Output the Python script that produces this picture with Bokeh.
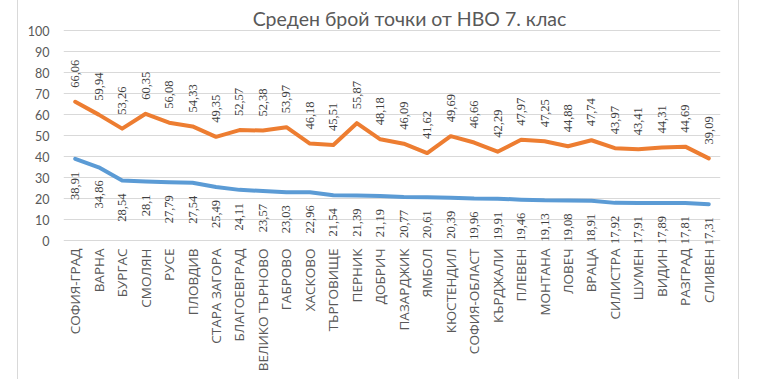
import math
from bokeh.plotting import figure
from bokeh.models import ColumnDataSource, FixedTicker, Label, LabelSet
from bokeh.core.properties import value
from bokeh.embed import file_html
from bokeh.resources import INLINE

title_text = "Среден брой точки от НВО 7. клас"

categories = ["СОФИЯ-ГРАД", "ВАРНА", "БУРГАС", "СМОЛЯН", "РУСЕ", "ПЛОВДИВ",
              "СТАРА ЗАГОРА", "БЛАГОЕВГРАД", "ВЕЛИКО ТЪРНОВО", "ГАБРОВО", "ХАСКОВО",
              "ТЪРГОВИЩЕ", "ПЕРНИК", "ДОБРИЧ", "ПАЗАРДЖИК", "ЯМБОЛ", "КЮСТЕНДИЛ",
              "СОФИЯ-ОБЛАСТ", "КЪРДЖАЛИ", "ПЛЕВЕН", "МОНТАНА", "ЛОВЕЧ", "ВРАЦА",
              "СИЛИСТРА", "ШУМЕН", "ВИДИН", "РАЗГРАД", "СЛИВЕН"]

series_orange = [66.06, 59.94, 53.26, 60.35, 56.08, 54.33, 49.35, 52.57, 52.38, 53.97,
                 46.18, 45.51, 55.87, 48.18, 46.09, 41.62, 49.69, 46.66, 42.29, 47.97,
                 47.25, 44.88, 47.74, 43.97, 43.41, 44.31, 44.69, 39.09]

series_blue = [38.91, 34.86, 28.54, 28.1, 27.79, 27.54, 25.49, 24.11, 23.57, 23.03,
               22.96, 21.54, 21.39, 21.19, 20.77, 20.61, 20.39, 19.96, 19.91, 19.46,
               19.13, 19.08, 18.91, 17.92, 17.91, 17.89, 17.81, 17.31]

y_ticks = [0, 10, 20, 30, 40, 50, 60, 70, 80, 90, 100]


def fmt(v):
    return f"{v:g}".replace(".", ",")


src = ColumnDataSource(dict(
    cat=categories,
    orange=series_orange,
    blue=series_blue,
    base=[0] * len(categories),
    orange_lbl=[fmt(v) for v in series_orange],
    blue_lbl=[fmt(v) for v in series_blue],
))

# frame covers the whole canvas height: 2.1 px per unit, 30 px above 100, 139 px below 0
p = figure(x_range=categories, y_range=(-139 / 2.1, 100 + 30 / 2.1),
           frame_width=657, frame_height=379,
           min_border_left=45, min_border_right=18,
           min_border_top=0, min_border_bottom=0,
           output_backend="svg", toolbar_location=None)

p.styles = {"position": "absolute", "left": "17px", "top": "0px",
            "border-left": "1px solid #d9d9d9", "border-right": "1px solid #d9d9d9"}

p.outline_line_color = None
p.background_fill_color = "white"
p.border_fill_color = "white"

p.xaxis.visible = False
p.xgrid.visible = False
p.ygrid.ticker = FixedTicker(ticks=y_ticks)
p.ygrid.grid_line_color = "#d9d9d9"
p.ygrid.grid_line_width = 1

p.yaxis.ticker = FixedTicker(ticks=y_ticks)
p.yaxis.axis_line_color = None
p.yaxis.major_tick_line_color = None
p.yaxis.minor_tick_line_color = None
p.yaxis.major_tick_out = 0
p.yaxis.major_tick_in = 0
p.yaxis.major_label_standoff = 14
p.yaxis.major_label_text_font = "Lato"
p.yaxis.major_label_text_font_size = "12.5px"
p.yaxis.major_label_text_color = "#595959"

p.line(x="cat", y="orange", source=src, line_color="#ED7D31", line_width=4,
       line_join="round", line_cap="round")
p.line(x="cat", y="blue", source=src, line_color="#5B9BD5", line_width=4,
       line_join="round", line_cap="round")

# category labels below the 0 line
p.text(x="cat", y="base", text="cat", source=src, angle=math.pi / 2,
       text_align="right", text_baseline="middle", y_offset=8,
       text_font=value("Open Sans"), text_font_size="13.5px", text_color="#595959")

p.add_layout(LabelSet(x="cat", y="orange", text="orange_lbl", source=src,
                      angle=math.pi / 2, text_align="left", text_baseline="middle",
                      y_offset=14, text_font="Lato", text_font_size="12.5px",
                      text_color="#404040"))
p.add_layout(LabelSet(x="cat", y="blue", text="blue_lbl", source=src,
                      angle=math.pi / 2, text_align="right", text_baseline="middle",
                      y_offset=-13, text_font="Lato", text_font_size="12.5px",
                      text_color="#404040"))

p.add_layout(Label(x=346, y=361, x_units="screen", y_units="screen", text=title_text,
                   text_align="center", text_baseline="alphabetic",
                   text_font="Lato", text_font_size="19.5px", text_color="#595959"))

open("out.html", "w").write(file_html(p, INLINE))
